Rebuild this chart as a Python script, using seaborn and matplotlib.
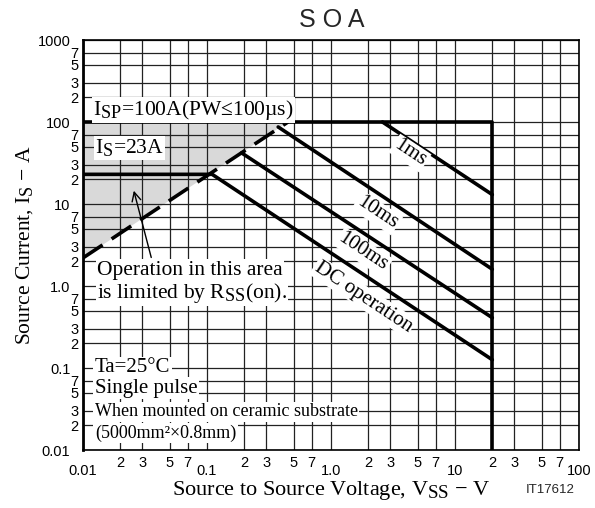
import matplotlib
matplotlib.use("Agg")
import matplotlib.pyplot as plt
import matplotlib._mathtext as mt
import seaborn as sns
from matplotlib.ticker import FixedLocator, FixedFormatter

# SOA boundary data (V in volts, I in amps)
isp_v = [0.01, 20, 20]
isp_i = [100, 100, 0.01]
ms1_v = [2.6, 20]
ms1_i = [100, 13]
ms10_v = [0.375, 20]
ms10_i = [87, 1.6]
ms100_v = [0.19, 20]
ms100_i = [42, 0.41]
dc_v = [0.01, 0.11, 20]
dc_i = [23, 23, 0.126]
rss_v = [0.01, 0.45]
rss_i = [2.2, 100]

x_major = [0.01, 0.1, 1, 10, 100]
x_major_lbl = ["0.01", "0.1", "1.0", "10", "100"]
y_major = [0.01, 0.1, 1, 10, 100, 1000]
y_major_lbl = ["0.01", "0.1", "1.0", "10", "100", "1000"]
minor_digits = [2, 3, 5, 7]

sns.set_theme(style="white")
plt.rcParams['font.family'] = ['Liberation Sans', 'DejaVu Sans']
plt.rcParams['mathtext.fontset'] = 'custom'
plt.rcParams['mathtext.rm'] = 'Liberation Serif'
plt.rcParams['mathtext.it'] = 'Liberation Serif:italic'
mt.SHRINK_FACTOR = 0.85  # datasheet subscripts are nearly full size
SERIF = ['Liberation Serif', 'DejaVu Serif']

fig = plt.figure(figsize=(5.95, 5.08), dpi=100)
ax = fig.add_axes([83/595, 1-450/508, 496/595, 410/508])
ax.set_xscale("log")
ax.set_yscale("log")
ax.set_xlim(0.01, 100)
ax.set_ylim(0.01, 1000)

# shaded area limited by RSS(on)
ax.fill([rss_v[0], rss_v[1], rss_v[0]], [rss_i[0], rss_i[1], isp_i[0]],
        color="#d9d9d9", lw=0, zorder=0)

kw = dict(ax=ax, color="black", lw=2.6, sort=False, estimator=None, legend=False)
sns.lineplot(x=isp_v, y=isp_i, **kw)
sns.lineplot(x=ms1_v, y=ms1_i, **kw)
sns.lineplot(x=ms10_v, y=ms10_i, **kw)
sns.lineplot(x=ms100_v, y=ms100_i, **kw)
sns.lineplot(x=dc_v, y=dc_i, **kw)
l = sns.lineplot(x=rss_v, y=rss_i, **kw)
l.lines[-1].set_dashes((6.5, 3))

# ticks and grid
x_minor = [d * m for m in x_major[:-1] for d in minor_digits]
y_minor = [d * m for m in y_major[:-1] for d in minor_digits]
ax.xaxis.set_major_locator(FixedLocator(x_major))
ax.xaxis.set_major_formatter(FixedFormatter(x_major_lbl))
ax.xaxis.set_minor_locator(FixedLocator(x_minor))
ax.xaxis.set_minor_formatter(FixedFormatter([str(d) for m in x_major[:-1] for d in minor_digits]))
ax.yaxis.set_major_locator(FixedLocator(y_major))
ax.yaxis.set_major_formatter(FixedFormatter(y_major_lbl))
ax.yaxis.set_minor_locator(FixedLocator(y_minor))
ax.yaxis.set_minor_formatter(FixedFormatter([str(d) for m in y_major[:-1] for d in minor_digits]))
ax.tick_params(which="both", length=0, labelsize=10.5, colors="black")
ax.tick_params(axis="x", which="major", pad=10)
ax.tick_params(axis="x", which="minor", pad=4)
ax.tick_params(axis="y", which="major", pad=9)
ax.tick_params(axis="y", which="minor", pad=3)
ax.set_axisbelow("line")
ax.grid(which="both", color="#222222", lw=0.9)
for s in ax.spines.values():
    s.set_color("black")
    s.set_linewidth(1.2)
ax.spines["left"].set_linewidth(2)

box = dict(facecolor="white", edgecolor="none", pad=1.0)
tk = dict(transform=ax.transAxes, family=SERIF, color="black",
          bbox=box, zorder=5, va="center")
ax.text(0.020, 0.829, r"I$_{\rm SP}$=100A(PW≤100µs)", ha="left", fontsize=15.5, **tk)
ax.text(0.024, 0.737, r"I$_{\rm S}$=23A", ha="left", fontsize=15.5, **tk)
ax.text(0.028, 0.439, "Operation in this area", ha="left", fontsize=15.5, **tk)
ax.text(0.028, 0.383, r"is limited by R$_{\rm SS}$(on).", ha="left", fontsize=15.5, **tk)
ax.text(0.024, 0.200, "Ta=25°C", ha="left", fontsize=15, **tk)
ax.text(0.024, 0.151, "Single pulse", ha="left", fontsize=15, **tk)
ax.text(0.024, 0.093, "When mounted on ceramic substrate", ha="left", fontsize=13, **tk)
ax.text(0.024, 0.041, "(5000mm²×0.8mm)", ha="left", fontsize=13, **tk)

rot = -33.5
rk = dict(ha="center", rotation=rot, rotation_mode="anchor", fontsize=15, **tk)
ax.text(0.659, 0.724, "1ms", **rk)
ax.text(0.593, 0.578, "10ms", **rk)
ax.text(0.565, 0.483, "100ms", **rk)
ax.text(0.565, 0.373, "DC operation", **rk)

ax.annotate("", xy=(0.101, 0.639), xytext=(0.139, 0.463),
            xycoords="axes fraction", textcoords="axes fraction",
            arrowprops=dict(arrowstyle="->", color="black", lw=1, mutation_scale=16),
            zorder=6)

fig.text(332/595, 1-20/508, "S O A", ha="center", va="center", fontsize=18)
ax.set_xlabel(r"Source to Source Voltage, V$_{\rm SS}$ $-$ V", family=SERIF,
              fontsize=16, color="black", labelpad=1)
ax.set_ylabel(r"Source Current, I$_{\rm S}$ $-$ A", family=SERIF,
              fontsize=15.5, color="black", labelpad=2)
fig.text(550/595, 1-490/508, "IT17612", ha="center", va="center", fontsize=9.5)

fig.savefig("out.png", dpi=100)
